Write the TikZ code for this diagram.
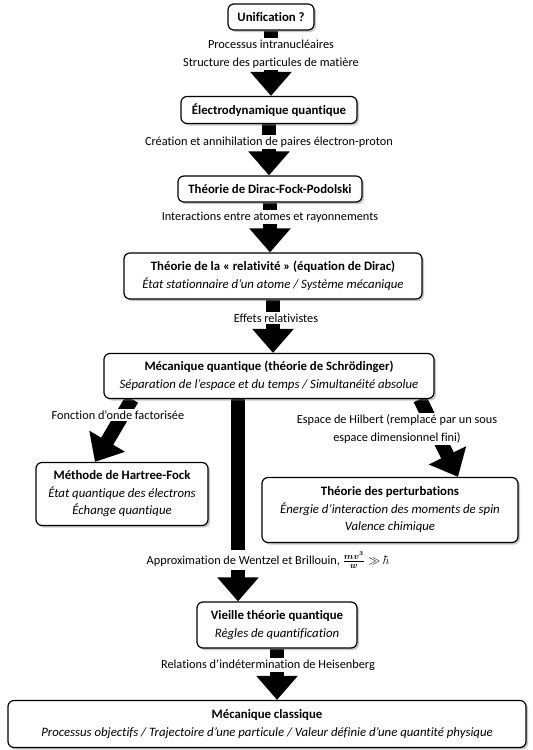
\documentclass[tikz,border=0pt]{standalone}
\usepackage{amsmath}
\usepackage{fontspec}
\setmainfont{Carlito}[Ligatures=NoCommon]
\usetikzlibrary{arrows.meta,shadows,backgrounds}
\begin{document}
\begin{tikzpicture}[x=1pt,y=-1pt,
  box/.style={draw=black, line width=1.2pt, rounded corners=6pt, fill=white,
    align=center, inner xsep=8pt, inner ysep=4pt,
    font=\fontsize{12.8}{17.5}\selectfont,
    drop shadow={opacity=0.45, shadow xshift=2pt, shadow yshift=-2pt}},
  lbl/.style={fill=white, align=center, inner sep=2pt, font=\fontsize{12.3}{17.5}\selectfont},
  bigarrow/.style={line width=14pt, -{Triangle[width=40pt,length=24pt]}},
]
\useasboundingbox (0,0) rectangle (533,750);

\node[box, minimum width=86pt, minimum height=26pt] (uni) at (271,17) {\textbf{Unification ?}};
\node[lbl] (l1) at (271,54) {Processus intranucléaires\\Structure des particules de matière};
\node[box, minimum width=176pt, minimum height=27pt] (elec) at (269,110) {\textbf{Électrodynamique quantique}};
\node[lbl] (l2) at (269,142) {Création et annihilation de paires électron-proton};
\node[box, minimum width=184pt, minimum height=26pt] (dirac) at (270,189) {\textbf{Théorie de Dirac-Fock-Podolski}};
\node[lbl] (l3) at (270,217) {Interactions entre atomes et rayonnements};
\node[box, minimum width=298pt, minimum height=46pt] (rel) at (273,276) {\textbf{Théorie de la « relativité » (équation de Dirac)}\\\textit{État stationnaire d’un atome / Système mécanique}};
\node[lbl] (l4) at (276,318) {Effets relativistes};
\node[box, minimum width=330pt, minimum height=45pt] (mq) at (269,376) {\textbf{Mécanique quantique (théorie de Schrödinger)}\\\textit{Séparation de l’espace et du temps / Simultanéité absolue}};
\node[lbl] (l5) at (118,415) {Fonction d’onde factorisée};
\node[lbl] (l6) at (397,429) {Espace de Hilbert (remplacé par un sous\\espace dimensionnel fini)};
\node[box, minimum width=172pt, minimum height=63pt] (hf) at (122,494) {\textbf{Méthode de Hartree-Fock}\\\textit{État quantique des électrons}\\\textit{Échange quantique}};
\node[box, minimum width=256pt, minimum height=65pt] (pert) at (390,510) {\textbf{Théorie des perturbations}\\\textit{Énergie d’interaction des moments de spin}\\\textit{Valence chimique}};
\node[lbl] (l7) at (268,560) {Approximation de Wentzel et Brillouin, $\frac{\boldsymbol{mv^3}}{\boldsymbol{w}}\gg\hbar$};
\node[box, minimum width=160pt, minimum height=46pt] (vq) at (277,625) {\textbf{Vieille théorie quantique}\\\textit{Règles de quantification}};
\node[lbl] (l8) at (268,665) {Relations d’indétermination de Heisenberg};
\node[box, minimum width=518pt, minimum height=47pt] (mc) at (267,724) {\textbf{Mécanique classique}\\\textit{Processus objectifs / Trajectoire d’une particule / Valeur définie d’une quantité physique}};

\coordinate (lx0) at (132,0);
\coordinate (lx1) at (95,0);
\coordinate (rx0) at (420,0);
\coordinate (rx1) at (458,0);
\coordinate (mx) at (238,0);

\begin{scope}[on background layer]
\draw[bigarrow] (uni.south) -- (uni.south |- elec.north);
\draw[bigarrow] (elec.south) -- (elec.south |- dirac.north);
\draw[bigarrow] (dirac.south) -- (dirac.south |- rel.north);
\draw[bigarrow] (rel.south) -- (rel.south |- mq.north);
\draw[bigarrow] (mq.south -| lx0) -- (hf.north -| lx1);
\draw[bigarrow] (mq.south -| rx0) -- (pert.north -| rx1);
\draw[bigarrow] (mq.south -| mx) -- (vq.north -| mx);
\draw[bigarrow] (vq.south) -- (vq.south |- mc.north);
\end{scope}
\end{tikzpicture}
\end{document}
